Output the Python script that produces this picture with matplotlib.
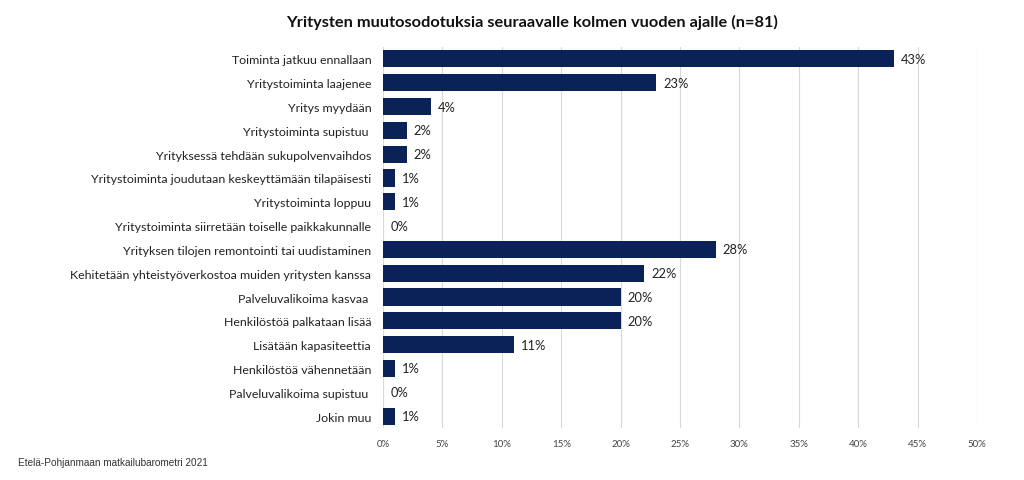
import matplotlib
matplotlib.use("Agg")
import matplotlib.pyplot as plt

categories = [
    "Toiminta jatkuu ennallaan",
    "Yritystoiminta laajenee",
    "Yritys myydään",
    "Yritystoiminta supistuu ",
    "Yrityksessä tehdään sukupolvenvaihdos",
    "Yritystoiminta joudutaan keskeyttämään tilapäisesti",
    "Yritystoiminta loppuu",
    "Yritystoiminta siirretään toiselle paikkakunnalle",
    "Yrityksen tilojen remontointi tai uudistaminen",
    "Kehitetään yhteistyöverkostoa muiden yritysten kanssa",
    "Palveluvalikoima kasvaa ",
    "Henkilöstöä palkataan lisää",
    "Lisätään kapasiteettia",
    "Henkilöstöä vähennetään",
    "Palveluvalikoima supistuu ",
    "Jokin muu",
]
values = [43, 23, 4, 2, 2, 1, 1, 0, 28, 22, 20, 20, 11, 1, 0, 1]
xticks = [0, 5, 10, 15, 20, 25, 30, 35, 40, 45, 50]

title = "Yritysten muutosodotuksia seuraavalle kolmen vuoden ajalle (n=81)"
footer = "Etelä-Pohjanmaan matkailubarometri 2021"

W, H = 1024, 481
fig = plt.figure(figsize=(W / 100, H / 100), dpi=100)
left, right = 383 / W, 977 / W
top, bottom = 1 - 48 / H, 1 - 429 / H
ax = fig.add_axes([left, bottom, right - left, top - bottom])

y = list(range(len(categories)))
ax.barh(y, values, height=0.72, color="#0b2259", zorder=3)
ax.set_ylim(len(categories) - 0.5, -0.5)
ax.set_xlim(0, 50)
ax.set_yticks(y)
ax.set_yticklabels(categories, fontsize=8.9, family="Lato", color="#222222")
ax.set_xticks(xticks)
ax.set_xticklabels([f"{t}%" for t in xticks], fontsize=7, family="Lato", color="#444444")
ax.tick_params(axis="y", length=0, pad=8.5)
ax.tick_params(axis="x", length=0, pad=8)
ax.grid(axis="x", color="#d9d9d9", linewidth=0.8, zorder=0)
for s in ax.spines.values():
    s.set_visible(False)

for yi, v in zip(y, values):
    ax.text(v + 0.6, yi, f"{v}%", va="center", ha="left", fontsize=9.3,
            family="Lato", color="#222222")

fig.text(532 / W, 1 - 22 / H, title, ha="center", va="center", fontsize=11.8,
         fontweight="bold", family="Lato", color="#111111")
fig.text(18 / W, 1 - 463 / H, footer, ha="left", va="center", fontsize=7.2,
         family="Liberation Sans", color="#333333")

fig.savefig("out.png", dpi=100)
